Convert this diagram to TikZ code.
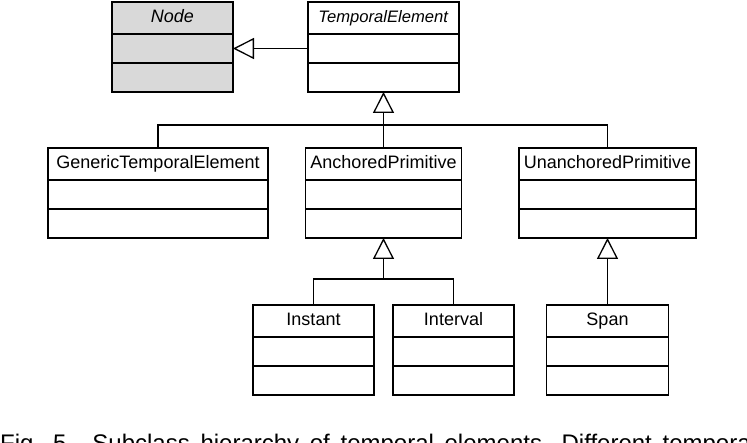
\documentclass[tikz,border=0pt]{standalone}
\usepackage{fontspec}
\setmainfont{Liberation Sans}
\usetikzlibrary{positioning,arrows.meta}
\definecolor{abstractgray}{gray}{0.85}
\tikzset{
  cname/.style={draw,line width=1.3pt,minimum width=#1,minimum height=32pt,inner sep=0pt,outer sep=0pt,anchor=north,text height=13pt,text depth=4pt,font=\fontsize{18}{20}\selectfont},
  cpart/.style={draw,line width=1.3pt,minimum width=#1,minimum height=29pt,inner sep=0pt,outer sep=0pt},
  link/.style={line width=1.3pt},
  isa/.style={line width=1.3pt,-{Triangle[open,length=21pt,width=21pt]}}
}
\begin{document}
\begin{tikzpicture}[x=1pt,y=-1pt]
\useasboundingbox (0,0) rectangle (747,443);
% abstract classes
\node[cname=121pt,fill=abstractgray] (node) at (172.5,2) {\textit{Node}};
\node[cpart=121pt,fill=abstractgray,below=0pt of node] (node-a) {};
\node[cpart=121pt,fill=abstractgray,below=0pt of node-a] (node-o) {};
\node[cname=151pt,font=\fontsize{16.6}{20}\selectfont] (te) at (383.5,2) {\textit{TemporalElement}};
\node[cpart=151pt,below=0pt of te] (te-a) {};
\node[cpart=151pt,below=0pt of te-a] (te-o) {};
% second level
\node[cname=220pt] (gen) at (158,148) {GenericTemporalElement};
\node[cpart=220pt,below=0pt of gen] (gen-a) {};
\node[cpart=220pt,below=0pt of gen-a] (gen-o) {};
\node[cname=156pt] (anc) at (383.5,148) {AnchoredPrimitive};
\node[cpart=156pt,below=0pt of anc] (anc-a) {};
\node[cpart=156pt,below=0pt of anc-a] (anc-o) {};
\node[cname=177pt] (uan) at (607.5,148) {UnanchoredPrimitive};
\node[cpart=177pt,below=0pt of uan] (uan-a) {};
\node[cpart=177pt,below=0pt of uan-a] (uan-o) {};
% third level
\node[cname=121pt] (ins) at (313.5,305) {Instant};
\node[cpart=121pt,below=0pt of ins] (ins-a) {};
\node[cpart=121pt,below=0pt of ins-a] (ins-o) {};
\node[cname=121pt] (int) at (453.5,305) {Interval};
\node[cpart=121pt,below=0pt of int] (int-a) {};
\node[cpart=121pt,below=0pt of int-a] (int-o) {};
\node[cname=122pt] (spn) at (607.5,305) {Span};
\node[cpart=122pt,below=0pt of spn] (spn-a) {};
\node[cpart=122pt,below=0pt of spn-a] (spn-o) {};
% generalizations
\draw[isa] (te-a.west) -- (node-a.east);
\coordinate (bar1) at (383.5,125);
\draw[link] (gen.north) |- (bar1) -| (uan.north);
\draw[link] (anc.north) -- (bar1);
\draw[isa] (bar1) -- (te-o.south);
\coordinate (bar2) at (383.5,279);
\draw[link] (ins.north) |- (bar2) -| (int.north);
\draw[isa] (bar2) -- (anc-o.south);
\draw[isa] (spn.north) -- (uan-o.south);
% caption, cut by the lower edge
\node[anchor=base west,inner sep=0pt,font=\fontsize{24}{28}\selectfont] (caption) at (0,451)
  {\spaceskip=10.7pt\relax Fig. 5.\hspace{19.3pt}Subclass hierarchy of temporal elements. Different temporal};
\end{tikzpicture}
\end{document}
